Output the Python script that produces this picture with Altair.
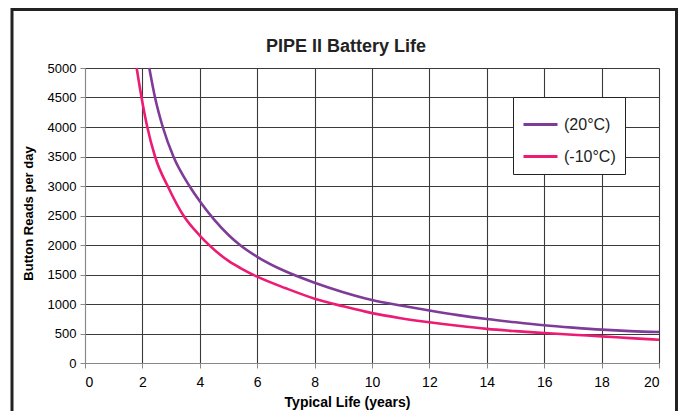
import altair as alt
import pandas as pd

# 20°C series
warm_x = [2.24, 2.44, 2.71, 3.08, 3.64, 4.0, 4.5, 5.0, 5.4, 6.0, 7.0, 8.0, 9.0, 10.0, 11.0, 12.0, 13.0, 14.0, 15.0, 16.0, 17.0, 18.0, 19.0, 20.0]
warm_y = [5000, 4500, 4000, 3500, 3000, 2740, 2430, 2170, 2000, 1800, 1550, 1361, 1200, 1068, 975, 890, 812, 746, 690, 640, 600, 565, 540, 525]
# -10°C series
cold_x = [1.80, 1.97, 2.17, 2.44, 2.93, 3.43, 4.0, 4.3, 5.0, 5.43, 6.0, 7.0, 8.0, 9.0, 10.0, 11.0, 12.0, 13.0, 14.0, 15.0, 16.0, 17.0, 18.0, 19.0, 20.0]
cold_y = [5000, 4500, 4000, 3500, 2950, 2500, 2160, 2010, 1730, 1605, 1463, 1266, 1090, 960, 845, 760, 690, 630, 578, 540, 508, 478, 452, 422, 395]

series_names = ["(20°C)", "(-10°C)"]
series_colors = ["#7E3C98", "#EC1C74"]

x_ticks = list(range(0, 21, 2))
y_ticks = list(range(0, 5001, 500))
title_text = ["PIPE II Battery Life"]

df = pd.concat([
    pd.DataFrame({"x": warm_x, "y": warm_y, "s": series_names[0], "o": range(len(warm_x))}),
    pd.DataFrame({"x": cold_x, "y": cold_y, "s": series_names[1], "o": range(len(cold_x))}),
])

FONT = "Liberation Sans"
GRID = "#3a3a3a"

lines = alt.Chart(df).mark_line(strokeWidth=2.6, interpolate="monotone").encode(
    x=alt.X("x:Q", scale=alt.Scale(domain=[0, 20], nice=False),
            axis=alt.Axis(values=x_ticks, title="Typical Life (years)", format="d",
                          grid=True, gridColor=GRID, gridWidth=1.1,
                          labelFontSize=14, labelPadding=7,
                          titleFontSize=14,
                          titleX=262, titleY=39, titleBaseline="middle", titleAlign="center")),
    y=alt.Y("y:Q", scale=alt.Scale(domain=[0, 5000], nice=False),
            axis=alt.Axis(values=y_ticks, title="Button Reads per day", format="d",
                          grid=True, gridColor=GRID, gridWidth=1.1,
                          labelFontSize=13, labelPadding=4,
                          titleFontSize=13,
                          titleX=-57, titleY=145, titleBaseline="middle", titleAlign="center")),
    color=alt.Color("s:N", scale=alt.Scale(domain=series_names, range=series_colors),
                    sort=series_names,
                    legend=alt.Legend(title=None, orient="none", legendX=428, legendY=29,
                                      symbolType="stroke", symbolSize=1156, symbolStrokeWidth=3,
                                      labelFontSize=16, labelFont=FONT, labelColor="#222",
                                      labelOffset=5, padding=9, rowPadding=5,
                                      fillColor="white", strokeColor="#222")),
    order="o:Q",
)

title = alt.Chart(pd.DataFrame({"t": title_text})).mark_text(
    font=FONT, fontSize=18, fontWeight="bold", color="#222",
    align="center", baseline="alphabetic"
).encode(text="t:N", x=alt.value(261), y=alt.value(-16))

frame = alt.Chart(pd.DataFrame({"a": [0]})).mark_rect(
    fill=None, stroke="#222", strokeWidth=3, clip=False
).encode(x=alt.value(-73), x2=alt.value(591.5), y=alt.value(-58.5), y2=alt.value(420))

chart = alt.layer(lines, title, frame).properties(
    width=574, height=295,
    autosize=alt.AutoSizeParams(type="none"),
    padding={"left": 77, "top": 60, "right": 19, "bottom": 48},
).configure_view(stroke=GRID, strokeWidth=1).configure_axis(
    domainColor="#222", tickColor="#222", tickSize=6,
    labelFont=FONT, labelColor="#333",
    titleFont=FONT, titleFontWeight="bold", titleColor="#222",
).configure_legend(strokeWidth=1.5).configure(background="white")

chart.save("out.html", embed_options={"renderer": "svg", "actions": False})
